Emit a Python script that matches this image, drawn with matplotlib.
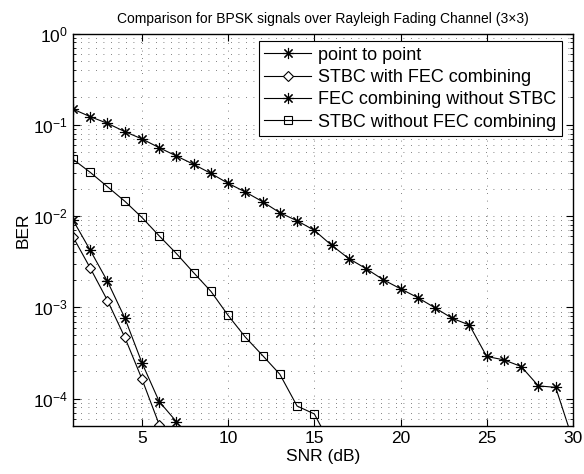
"""BER comparison for BPSK over Rayleigh fading (3x3)."""

import numpy as np
import matplotlib
matplotlib.use("Agg")
import matplotlib.pyplot as plt
from matplotlib.ticker import LogLocator, NullFormatter, FixedLocator

plt.rcParams["font.family"] = ["Liberation Sans", "DejaVu Sans"]
plt.rcParams["mathtext.fontset"] = "custom"
plt.rcParams["mathtext.rm"] = "Liberation Sans"
plt.rcParams["mathtext.it"] = "Liberation Sans"

nan = np.nan
snr = np.arange(1, 31)

point_to_point = [0.149, 0.123, 0.104, 0.0845, 0.0702, 0.0563, 0.0456, 0.037,
                  0.0294, 0.0229, 0.0184, 0.0144, 0.0109, 0.0089, 0.0070,
                  0.0048, 0.00343, 0.00266, 0.00201, 0.0016, 0.00128, 0.00099,
                  0.00076, 0.00064, 0.00029, 0.000266, 0.000225, 0.000138,
                  0.000133, 3.5e-5]
stbc_fec = [0.00593, 0.0027, 0.00119, 0.000472, 0.000164, 5.2e-5] + [nan] * 24
fec_no_stbc = [0.00904, 0.00423, 0.00193, 0.00077, 0.000247, 9.3e-5, 5.6e-5] + [nan] * 23
stbc_no_fec = [0.042, 0.0302, 0.021, 0.0146, 0.00967, 0.00608, 0.00389, 0.0024,
               0.0015, 0.000817, 0.000472, 0.000297, 0.000185, 8.3e-5, 6.8e-5,
               3.0e-5] + [nan] * 14

labels = ["point to point", "STBC with FEC combining",
          "FEC combining without STBC", "STBC without FEC combining"]

star = (8, 2, 0)

fig = plt.figure(figsize=(5.84, 4.74), dpi=100)
ax = fig.add_axes([0.125, 0.101, 0.856, 0.828])

ax.semilogy(snr, point_to_point, color="k", lw=0.8, marker=star, ms=8, mew=0.8, label=labels[0])
ax.semilogy(snr, stbc_fec, color="k", lw=0.8, marker="D", ms=5.5, mfc="white", mew=0.8, label=labels[1])
ax.semilogy(snr, fec_no_stbc, color="k", lw=0.8, marker=star, ms=8, mew=0.8, label=labels[2])
ax.semilogy(snr, stbc_no_fec, color="k", lw=0.8, marker="s", ms=6, mfc="none", mew=0.8, label=labels[3])

ax.set_xlim(1, 30)
ax.set_ylim(5e-5, 1)
ax.xaxis.set_major_locator(FixedLocator([5, 10, 15, 20, 25, 30]))
ax.yaxis.set_major_locator(LogLocator(base=10, numticks=10))
ax.yaxis.set_minor_locator(LogLocator(base=10, subs=np.arange(2, 10), numticks=20))
ax.yaxis.set_minor_formatter(NullFormatter())

grid_style = dict(color="0.35", lw=0.6, linestyle=(0, (1, 8)))
ax.grid(True, which="major", axis="both", **grid_style)
ax.grid(True, which="minor", axis="y", **grid_style)

ax.tick_params(which="both", direction="in", top=True, right=True, labelsize=12.5)
ax.tick_params(which="major", length=5, width=0.8)
ax.tick_params(which="minor", length=2.5, width=0.6)
for s in ax.spines.values():
    s.set_linewidth(1.0)

ax.set_xlabel("SNR (dB)", fontsize=12.5, labelpad=2)
ax.set_ylabel("BER", fontsize=12.5, labelpad=2)
ax.set_title("Comparison for BPSK signals over Rayleigh Fading Channel (3\u00d73)",
             fontsize=10, pad=8)

leg = ax.legend(loc="upper right", bbox_to_anchor=(0.978, 0.981), fontsize=13,
                handlelength=2.6, handletextpad=0.4, labelspacing=0.3,
                borderpad=0.3, borderaxespad=0, fancybox=False, framealpha=1)
leg.get_frame().set_edgecolor("k")
leg.get_frame().set_linewidth(0.8)

fig.savefig("out.png", dpi=100)
